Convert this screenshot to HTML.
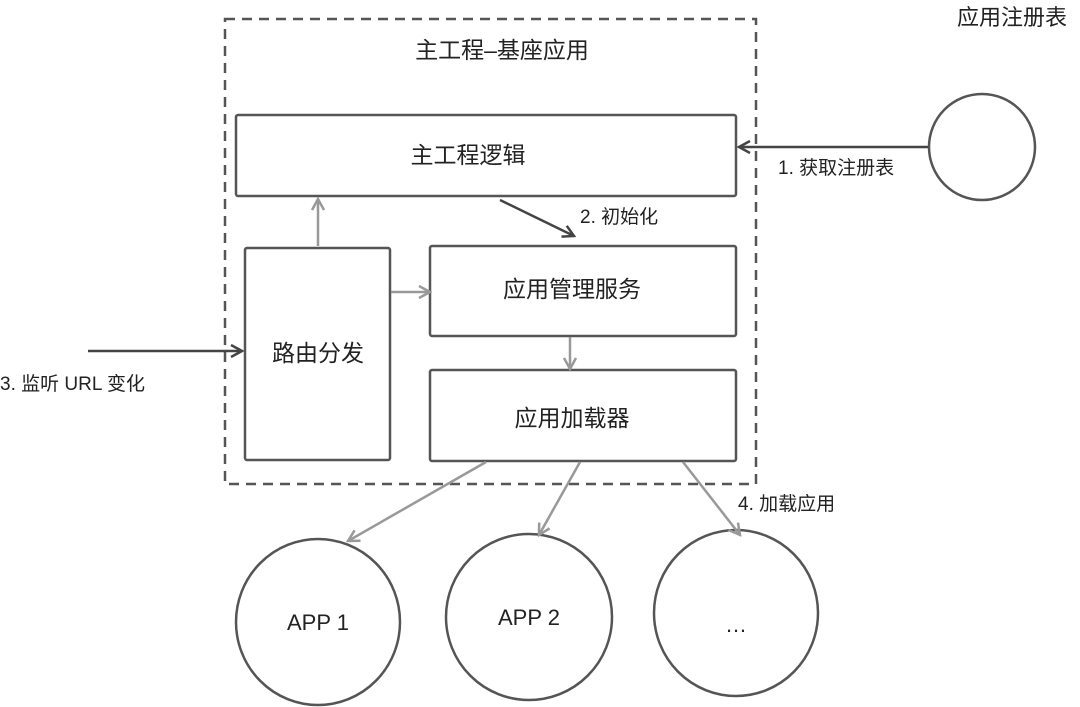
<!DOCTYPE html>
<html><head><meta charset="utf-8"><style>
html,body{margin:0;padding:0;background:#fff;}
svg{display:block;}
text{font-family:"Liberation Sans","Noto Sans CJK SC",sans-serif;fill:#222;}
</style></head><body>
<svg width="1080" height="707" viewBox="0 0 1080 707" xmlns="http://www.w3.org/2000/svg">
<defs>
<marker id="ad" markerWidth="14" markerHeight="14" refX="12" refY="7" orient="auto" markerUnits="userSpaceOnUse">
<path d="M1,1 L12,7 L1,13" fill="none" stroke="#444" stroke-width="2.5"/></marker>
<marker id="ag" markerWidth="14" markerHeight="14" refX="12" refY="7" orient="auto" markerUnits="userSpaceOnUse">
<path d="M1,1 L12,7 L1,13" fill="none" stroke="#999" stroke-width="2.5"/></marker>
</defs>
<rect x="225" y="19" width="531" height="465" fill="none" stroke="#555" stroke-width="2.5" stroke-dasharray="10,7"/>
<text x="502" y="58" font-size="23" text-anchor="middle">主工程–基座应用</text>
<text x="1012" y="25" font-size="22" text-anchor="middle">应用注册表</text>
<g fill="#fff" stroke="#555" stroke-width="2.5">
<rect x="236" y="115" width="500" height="81" rx="2"/>
<rect x="245" y="248" width="145" height="212" rx="2"/>
<rect x="430" y="246" width="306" height="90" rx="2"/>
<rect x="430" y="370" width="306" height="91" rx="2"/>
<circle cx="982" cy="147" r="53"/>
<ellipse cx="318" cy="622" rx="82" ry="83"/>
<ellipse cx="529" cy="617" rx="83" ry="83"/>
<ellipse cx="736" cy="613" rx="82" ry="83"/>
</g>
<text x="468" y="163" font-size="23" text-anchor="middle">主工程逻辑</text>
<text x="318" y="361" font-size="23" text-anchor="middle">路由分发</text>
<text x="572" y="297" font-size="23" text-anchor="middle">应用管理服务</text>
<text x="572" y="426" font-size="23" text-anchor="middle">应用加载器</text>
<text x="318" y="630" font-size="22" text-anchor="middle">APP 1</text>
<text x="529" y="625" font-size="22" text-anchor="middle">APP 2</text>
<text x="736" y="632" font-size="22" text-anchor="middle">…</text>
<text x="778" y="174" font-size="19">1. 获取注册表</text>
<text x="580" y="223" font-size="19">2. 初始化</text>
<text x="0" y="390" font-size="19">3. 监听 URL 变化</text>
<text x="738" y="510" font-size="19">4. 加载应用</text>
<g fill="none" stroke-width="2.5">
<line x1="928" y1="147" x2="739" y2="147" stroke="#444" marker-end="url(#ad)"/>
<line x1="500" y1="200" x2="574" y2="236" stroke="#444" marker-end="url(#ad)"/>
<line x1="88" y1="351" x2="242" y2="351" stroke="#444" marker-end="url(#ad)"/>
<line x1="318" y1="246" x2="318" y2="199" stroke="#999" marker-end="url(#ag)"/>
<line x1="391" y1="292" x2="430" y2="292" stroke="#999" marker-end="url(#ag)"/>
<line x1="570" y1="337" x2="570" y2="369" stroke="#999" marker-end="url(#ag)"/>
<line x1="486" y1="462" x2="348" y2="541" stroke="#999" marker-end="url(#ag)"/>
<line x1="580" y1="462" x2="539" y2="535" stroke="#999" marker-end="url(#ag)"/>
<line x1="683" y1="462" x2="740" y2="535" stroke="#999" marker-end="url(#ag)"/>
</g>
</svg>
</body></html>
